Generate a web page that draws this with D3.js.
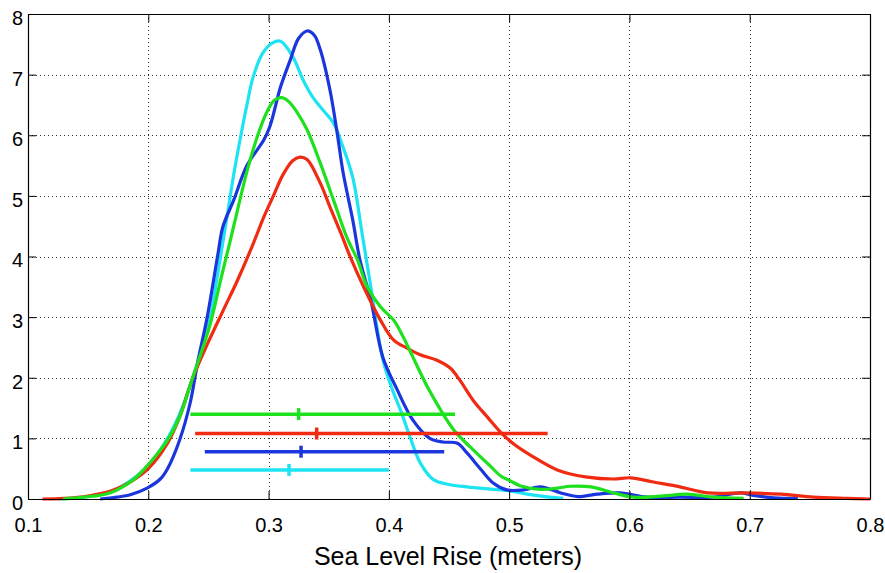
<!DOCTYPE html>
<html>
<head>
<meta charset="utf-8">
<script src="https://cdn.jsdelivr.net/npm/d3@7"></script>
<style>
  html, body { margin: 0; padding: 0; background: #fff; }
  svg { display: block; }
  text { font-family: "Liberation Sans", Arial, Helvetica, sans-serif; fill: #000; }
</style>
</head>
<body>
<svg id="chart" width="885" height="573"></svg>
<script>
// ---- data ----
const xTicks = [0.1, 0.2, 0.3, 0.4, 0.5, 0.6, 0.7, 0.8];
const yTicks = [0, 1, 2, 3, 4, 5, 6, 7, 8];
const xLabel = "Sea Level Rise (meters)";

const cyanX = [0.125,0.15,0.17,0.185,0.2,0.216,0.226,0.237,0.25,0.258,0.265,0.271,0.277,0.282,0.287,0.295,0.303,0.31,0.32,0.329,0.337,0.345,0.354,0.362,0.37,0.378,0.385,0.395,0.403,0.41,0.418,0.426,0.437,0.45,0.465,0.48,0.498,0.515,0.53,0.545];
const cyanY = [0,0.04,0.13,0.3,0.55,1.0,1.4,2.0,2.85,3.75,4.6,5.35,6.0,6.5,6.95,7.35,7.52,7.55,7.3,6.9,6.62,6.42,6.2,5.8,5.3,4.35,3.5,2.3,1.8,1.45,1.0,0.6,0.32,0.24,0.2,0.17,0.14,0.08,0.04,0.01];

const blueX = [0.16,0.17,0.185,0.199,0.21,0.216,0.226,0.235,0.241,0.249,0.258,0.262,0.271,0.282,0.296,0.301,0.31,0.318,0.325,0.332,0.338,0.343,0.351,0.357,0.362,0.37,0.376,0.385,0.395,0.407,0.42,0.434,0.445,0.457,0.465,0.476,0.487,0.498,0.512,0.526,0.543,0.557,0.573,0.592,0.615,0.642,0.67,0.692,0.703,0.72,0.74];
const blueY = [0,0.02,0.07,0.18,0.33,0.5,0.97,1.6,2.25,3.0,4.05,4.49,4.93,5.5,5.92,6.14,6.8,7.24,7.6,7.72,7.65,7.41,6.75,6.04,5.38,4.6,3.94,3.28,2.34,1.8,1.3,1.0,0.94,0.92,0.76,0.5,0.26,0.15,0.15,0.2,0.1,0.04,0.08,0.1,0.03,0.03,0.03,0.1,0.06,0.02,0.01];

const greenX = [0.129,0.146,0.168,0.187,0.201,0.216,0.226,0.237,0.251,0.26,0.268,0.274,0.282,0.291,0.299,0.305,0.311,0.317,0.324,0.332,0.343,0.354,0.365,0.374,0.382,0.393,0.404,0.412,0.42,0.432,0.443,0.454,0.468,0.476,0.484,0.493,0.501,0.509,0.526,0.54,0.551,0.568,0.587,0.603,0.628,0.648,0.67,0.695];
const greenY = [0,0.03,0.1,0.31,0.59,0.97,1.35,2.01,2.85,3.6,4.25,4.75,5.4,6.0,6.4,6.58,6.62,6.55,6.37,6.09,5.54,4.93,4.32,3.94,3.5,3.17,2.95,2.67,2.34,1.85,1.47,1.14,0.85,0.7,0.55,0.38,0.3,0.22,0.16,0.18,0.21,0.2,0.1,0.03,0.05,0.08,0.03,0.01];

const redX = [0.112,0.13,0.15,0.17,0.185,0.2,0.216,0.226,0.237,0.249,0.262,0.274,0.287,0.296,0.304,0.312,0.32,0.326,0.332,0.343,0.351,0.36,0.368,0.379,0.393,0.404,0.415,0.426,0.44,0.451,0.459,0.47,0.482,0.493,0.503,0.518,0.54,0.565,0.587,0.601,0.62,0.642,0.665,0.698,0.726,0.753,0.781,0.8];
const redY = [0,0.01,0.05,0.14,0.28,0.5,0.92,1.35,2.0,2.55,3.1,3.6,4.2,4.65,5.0,5.35,5.58,5.64,5.6,5.21,4.82,4.39,3.99,3.5,2.95,2.62,2.49,2.38,2.29,2.16,1.96,1.63,1.35,1.1,0.92,0.72,0.48,0.36,0.33,0.35,0.28,0.2,0.1,0.1,0.08,0.03,0.01,0];

// range bars: [low, median, high] at a given height
const barNames  = ["cyan", "blue", "red", "green"];
const barLow    = [0.235, 0.247, 0.239, 0.235];
const barMid    = [0.317, 0.327, 0.340, 0.325];
const barHigh   = [0.400, 0.446, 0.532, 0.455];
const barLevel  = [0.48, 0.78, 1.08, 1.40];

const colors = { cyan: "#1ee3f2", blue: "#1b36dc", red: "#f02b12", green: "#1de11d" };

// ---- chart ----
const svg = d3.select("#chart");
const L = 28, R = 870, T = 14, B = 499;
const x = d3.scaleLinear().domain([0.1, 0.8]).range([L, R]);
const y = d3.scaleLinear().domain([0, 8]).range([B, T]);

// grid
const grid = svg.append("g").attr("stroke", "#333").attr("stroke-width", 1).attr("stroke-dasharray", "1,3");
grid.selectAll("line.v").data(xTicks.slice(1, -1)).join("line")
  .attr("x1", d => Math.round(x(d)) + 0.5).attr("x2", d => Math.round(x(d)) + 0.5)
  .attr("y1", T).attr("y2", B);
grid.selectAll("line.h").data(yTicks.slice(1, -1)).join("line")
  .attr("y1", d => Math.round(y(d)) + 0.5).attr("y2", d => Math.round(y(d)) + 0.5)
  .attr("x1", L).attr("x2", R);

// curves
const line = d3.line().x(d => x(d[0])).y(d => Math.min(y(0), y(d[1]))).curve(d3.curveCatmullRom.alpha(0.5));
const series = [
  { c: colors.cyan, xs: cyanX, ys: cyanY },
  { c: colors.blue, xs: blueX, ys: blueY },
  { c: colors.red, xs: redX, ys: redY },
  { c: colors.green, xs: greenX, ys: greenY }
];
series.forEach(s => {
  svg.append("path")
    .datum(d3.zip(s.xs, s.ys))
    .attr("d", line)
    .attr("fill", "none")
    .attr("stroke", s.c)
    .attr("stroke-width", 3.2)
    .attr("stroke-linejoin", "round");
});

// range bars
barNames.forEach((n, i) => {
  const g = svg.append("g").attr("stroke", colors[n]).attr("stroke-width", 3.5);
  g.append("line").attr("x1", x(barLow[i])).attr("x2", x(barHigh[i]))
    .attr("y1", y(barLevel[i])).attr("y2", y(barLevel[i]));
  g.append("line").attr("x1", x(barMid[i])).attr("x2", x(barMid[i]))
    .attr("y1", y(barLevel[i]) - 6).attr("y2", y(barLevel[i]) + 6);
});

// axes
const fmt = d3.format(".1f");
const axB = svg.append("g").attr("transform", `translate(0,${B})`)
  .call(d3.axisBottom(x).tickValues(xTicks).tickFormat(fmt).tickSizeInner(-8).tickSizeOuter(0).tickPadding(19));
const axT = svg.append("g").attr("transform", `translate(0,${T})`)
  .call(d3.axisTop(x).tickValues(xTicks).tickFormat("").tickSizeInner(-8).tickSizeOuter(0));
const axL = svg.append("g").attr("transform", `translate(${L},0)`)
  .call(d3.axisLeft(y).tickValues(yTicks).tickFormat(d3.format("d")).tickSizeInner(-8).tickSizeOuter(0).tickPadding(5));
const axR = svg.append("g").attr("transform", `translate(${R},0)`)
  .call(d3.axisRight(y).tickValues(yTicks).tickFormat("").tickSizeInner(-8).tickSizeOuter(0));

[axB, axT, axL, axR].forEach(a => {
  a.select(".domain").attr("stroke", "#000").attr("stroke-width", 1.2);
  a.selectAll(".tick line").attr("stroke", "#000").attr("stroke-width", 1);
  a.selectAll("text").attr("font-size", 20).attr("font-family", '"Liberation Sans", Arial, sans-serif').attr("fill", "#000");
});
axL.selectAll("text").attr("dy", "0.52em");

// x label
svg.append("text")
  .attr("x", (L + R) / 2 - 1).attr("y", 565)
  .attr("text-anchor", "middle")
  .attr("font-size", 25)
  .text(xLabel);
</script>
</body>
</html>
